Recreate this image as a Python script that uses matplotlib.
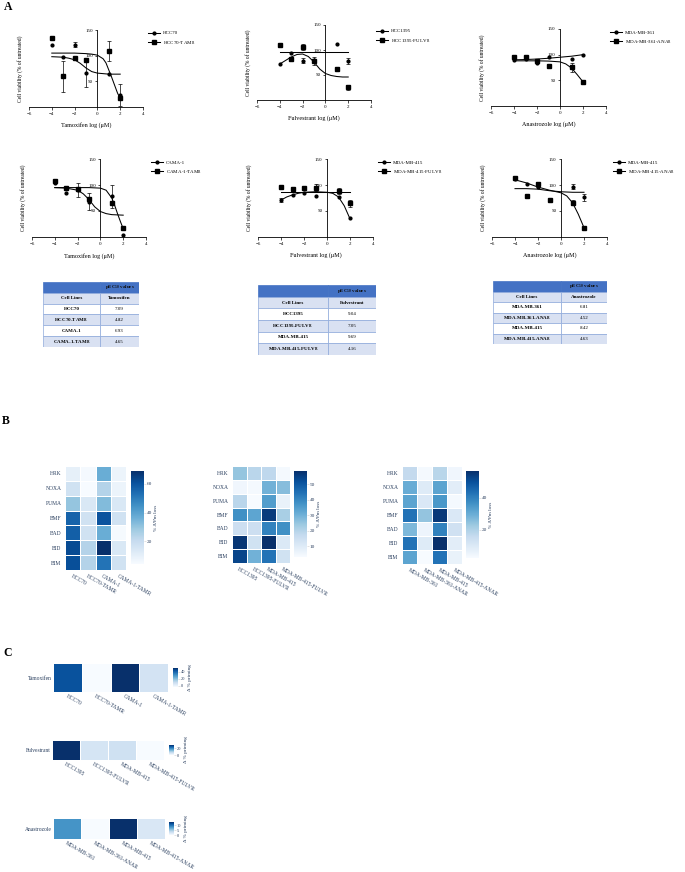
import matplotlib
matplotlib.use("Agg")
import matplotlib.pyplot as plt
from matplotlib.patches import Rectangle
import numpy as np

plt.rcParams['font.family'] = ['Liberation Serif', 'DejaVu Serif']
plt.rcParams['mathtext.fontset'] = 'custom'
plt.rcParams['mathtext.rm'] = 'Liberation Serif'
plt.rcParams['mathtext.bf'] = 'Liberation Serif:bold'

W, H = 685, 872

# ---------------- panel A : dose response ----------------
doses = [-4, -3, -2, -1, 1, 2]
drugs = ["Tamoxifen", "Fulvestrant", "Anastrozole",
         "Tamoxifen", "Fulvestrant", "Anastrozole"]
parent_lines = ["HCC70", "HCC1395", "MDA-MB-361",
                "CAMA-1", "MDA-MB-415", "MDA-MB-415"]
resist_lines = ["HCC70-TAM", "HCC1395-FULV", "MDA-MB-361-ANA",
                "CAMA-1-TAM", "MDA-MB-415-FULV", "MDA-MB-415-ANA"]

# mean viability (% of untreated) and error, parent (circles)
viab_par = [[121, 97, 121, 67, 64, 23],
            [72, 93, 78, 79, 112, 78],
            [90, 92, 84, 96, 92, 100],
            [103, 84, 90, 68, 78, 3],
            [71, 81, 84, 79, 76, 37],
            [111, 101, 96, 72, 97, 76]]
err_par = [[0, 0, 5, 28, 0, 21],
           [0, 0, 5, 0, 0, 6],
           [0, 0, 0, 0, 0, 0],
           [0, 0, 13, 16, 22, 0],
           [4, 0, 0, 0, 0, 0],
           [0, 0, 0, 0, 5, 6]]
# resistant (squares)
viab_res = [[135, 60, 95, 92, 109, 17],
            [109, 81, 105, 77, 62, 25],
            [96, 96, 88, 78, 75, 47],
            [108, 95, 92, 74, 65, 18],
            [96, 92, 94, 95, 89, 65],
            [114, 79, 101, 72, 66, 18]]
err_res = [[0, 30, 0, 0, 20, 0],
           [0, 4, 6, 8, 4, 5],
           [0, 0, 0, 0, 9, 3],
           [0, 0, 0, 0, 0, 0],
           [0, 4, 0, 7, 6, 7],
           [0, 0, 5, 0, 5, 0]]

# fitted curves
fit_par_x = [[-4, -3, -2.5, -2, -1.5, -1, -0.5, 0, 0.5, 1, 2],
             [-4, -3.5, -3, -2.5, -2, -1.5, -1, -0.5, 0, 0.5, 1, 1.5, 2],
             [-4, -3, -2, -1, 0, 1, 2],
             [-4, -3, -2, -1.5, -1, -0.5, 0, 0.5, 1, 2],
             [-4, -3.5, -3, -2.5, -2, -1, 0, 0.5, 1, 1.5, 2],
             [-4, -3, -2, -1, 0, 1, 2]]
fit_par_y = [[98, 97, 95, 92, 85, 76, 69, 66, 65, 64, 64],
             [72, 79, 86, 91, 92, 87, 76, 62, 53, 49, 47, 46, 46],
             [90, 90.5, 91.5, 93, 95, 97, 100],
             [95, 94, 90, 83, 72, 58, 49, 45, 43, 42],
             [71, 77, 81, 84, 86, 87, 86, 84, 77, 60, 35],
             [93, 93, 92, 89, 87, 86, 86]]
fit_res_x = [[-4, -3, -2, -1, -0.5, 0, 0.5, 0.75, 1, 1.25, 1.5, 1.75, 2],
             [-4, 2],
             [-4, -3, -2, -1, 0, 0.5, 1, 1.5, 2],
             [-4, -2, -1, 0, 0.5, 1, 1.25, 1.5, 1.75, 2],
             [-4, 2],
             [-4, -3, -2, -1, 0, 0.5, 1, 1.5, 2]]
fit_res_y = [[105, 105, 105, 104, 103, 101, 94, 86, 72, 58, 43, 28, 16],
             [95, 95],
             [88, 88, 88, 87.5, 86, 82, 74, 61, 47],
             [95, 95, 95, 94, 90, 75, 61, 45, 30, 16],
             [87, 87],
             [110, 104, 96, 90, 85, 79, 66, 44, 18]]

# ---------------- pEC50 tables ----------------
table_drugs = ["Tamoxifen", "Fulvestrant", "Anastrozole"]
table_lines = [["HCC70", "HCC70-TAM$_\\mathregular{R}$", "CAMA-1",
                "CAMA-1-TAM$_\\mathregular{R}$"],
               ["HCC1395", "HCC1395-FULV$_\\mathregular{R}$", "MDA-MB-415",
                "MDA-MB-415-FULV$_\\mathregular{R}$"],
               ["MDA-MB-361", "MDA-MB-361-ANA$_\\mathregular{R}$", "MDA-MB-415",
                "MDA-MB-415-ANA$_\\mathregular{R}$"]]
table_pec50 = [["7.09", "4.82", "6.93", "4.65"],
               ["9.04", "7.05", "9.69", "4.16"],
               ["6.81", "4.52", "8.42", "4.63"]]

# ---------------- panel B : BH3 profiling ----------------
peptides = ["HRK", "NOXA", "PUMA", "BMF", "BAD", "BID", "BIM"]
b_cols = [["HCC70", "HCC70-TAMR", "CAMA-1", "CAMA-1-TAMR"],
          ["HCC1395", "HCC1395-FULVR", "MDA-MB-415", "MDA-MB-415-FULVR"],
          ["MDA-MB-361", "MDA-MB-361-ANAR", "MDA-MB-415", "MDA-MB-415-ANAR"]]
b_tam = [[10, 5.5, 37, 8],
         [17, 4.4, 24, 8],
         [30, 14, 33, 14],
         [56, 17, 60, 17],
         [57, 17, 37, 5],
         [62, 24, 68.7, 14],
         [61, 24, 52, 17]]
b_ful = [[25, 19, 18, 4],
         [5, 4, 30, 27],
         [19, 3, 35, 7],
         [38, 33, 56, 22],
         [15, 15, 41, 38],
         [57, 14, 58.4, 11],
         [54, 30, 44, 14]]
b_ana = [[16, 3, 18, 4],
         [30, 9, 32, 8],
         [32, 10, 35, 3],
         [43, 24, 55, 10],
         [27, 5, 40, 13],
         [43, 9, 57, 8],
         [32, 2, 43, 6]]
b_ticks = [[20, 40, 60], [10, 20, 30, 40, 50], [20, 40]]

# ---------------- panel C : delta priming ----------------
c_drugs = ["Tamoxifen", "Fulvestrant", "Anastrozole"]
c_vals = [[43, -4, 50, 6],
          [29, 5, 6, 0],
          [8, 0, 13, 2]]
c_ticks = [[0, 20, 40], [0, 20], [0, 5, 10]]

TXT = '#2a3f5f'


def box(l, t, r, b):
    return [l / W, 1 - b / H, (r - l) / W, (b - t) / H]


fig = plt.figure(figsize=(W / 100, H / 100), dpi=100)

for lab, x, y in [("A", 4, 7), ("B", 2, 421), ("C", 3, 653)]:
    fig.text(x / W, 1 - y / H, lab, fontsize=8.5, fontweight='bold',
             va='center', ha='left')

# dose response panels
a_boxes = [(29, 30, 143, 107), (257, 25, 371, 100), (491, 29, 606, 106),
           (32, 159, 146, 237), (258, 159, 373, 237), (492, 159, 607, 237)]
a_legend = [(148, 31), (376, 29), (610, 30), (151, 160), (378, 160), (613, 160)]

for i in range(6):
    ax = fig.add_axes(box(*a_boxes[i]))
    ax.plot(fit_par_x[i], fit_par_y[i], color='k', lw=0.75)
    ax.plot(fit_res_x[i], fit_res_y[i], color='k', lw=0.75)
    d = np.array(doses, dtype=float)
    for vals, errs, mk, ms in [(viab_par[i], err_par[i], 'o', 2.0),
                               (viab_res[i], err_res[i], 's', 2.2)]:
        vals = np.array(vals, dtype=float)
        errs = np.array(errs, dtype=float)
        ax.plot(d, vals, ls='none', marker=mk, ms=ms, color='k')
        m = errs > 0
        ax.errorbar(d[m], vals[m], yerr=errs[m], fmt='none', ecolor='k',
                    elinewidth=0.5, capsize=1.6, capthick=0.5)
    ax.set_xlim(-6, 4)
    ax.set_ylim(0, 150)
    ax.set_xticks([-6, -4, -2, 0, 2, 4])
    ax.set_yticks([50, 100, 150])
    ax.spines['left'].set_position(('data', 0))
    ax.spines['bottom'].set_position(('data', 0))
    ax.spines['top'].set_visible(False)
    ax.spines['right'].set_visible(False)
    for s in ['left', 'bottom']:
        ax.spines[s].set_linewidth(0.6)
    ax.tick_params(direction='out', length=1.8, width=0.5, labelsize=3.6, pad=1.5)
    ax.patch.set_alpha(0)
    ax.set_xlabel('%s log (\u03bcM)' % drugs[i], fontsize=4.4)
    ax.xaxis.set_label_coords(0.5, -0.2)
    ax.set_ylabel('Cell viability (% of untreated)', fontsize=4.0)
    ax.yaxis.set_label_coords(-0.055, 0.5)
    h1, = ax.plot([], [], color='k', lw=0.75, marker='o', ms=2.0)
    h2, = ax.plot([], [], color='k', lw=0.75, marker='s', ms=2.2)
    lx, ly = a_legend[i]
    ax.legend([h1, h2], [parent_lines[i], resist_lines[i] + '$_\\mathregular{R}$'],
              loc='upper left', bbox_to_anchor=(lx / W, 1 - ly / H),
              bbox_transform=fig.transFigure, frameon=False, fontsize=3.6,
              handlelength=2.3, handletextpad=0.7, labelspacing=0.75,
              borderpad=0, borderaxespad=0, numpoints=1)

# tables
t_boxes = [(43, 282, 139, 347, 100), (258, 285, 376, 355, 328),
           (493, 281, 607, 344, 561)]
for i in range(3):
    l, t, r, b, sp = t_boxes[i]
    ax = fig.add_axes(box(l, t, r, b))
    ax.set_xlim(0, 1)
    ax.set_ylim(6, 0)
    ax.axis('off')
    s = (sp - l) / (r - l)
    fills = ['#4472C4', '#D9E1F2', 'white', '#D9E1F2', 'white', '#D9E1F2']
    for row in range(6):
        for x0, w in [(0, s), (s, 1 - s)]:
            ec = fills[0] if row == 0 else '#8EA9DB'
            ax.add_patch(Rectangle((x0, row), w, 1, facecolor=fills[row],
                                   edgecolor=ec, lw=0.5))
    ax.text(s + (1 - s) / 2, 0.5, 'pEC$_\\mathregular{50}$ values', ha='center',
            va='center', fontsize=3.6, fontweight='bold', color='#111111')
    ax.text(s / 2, 1.5, 'Cell Lines', ha='center', va='center', fontsize=3.6,
            fontweight='bold')
    ax.text(s + (1 - s) / 2, 1.5, table_drugs[i], ha='center', va='center',
            fontsize=3.6, fontweight='bold')
    for k in range(4):
        ax.text(s / 2, 2.5 + k, table_lines[i][k], ha='center', va='center',
                fontsize=3.6, fontweight='bold')
        ax.text(s + (1 - s) / 2, 2.5 + k, table_pec50[i][k], ha='center',
                va='center', fontsize=3.6)


def heat(ax, cax, data, xlabels, ylabels, ticks, cbar_label, pad):
    data = np.array(data, dtype=float)
    mesh = ax.pcolormesh(data, cmap='Blues', vmin=data.min(), vmax=data.max(),
                         edgecolors='white', linewidth=0.4)
    ax.set_xlim(0, data.shape[1])
    ax.set_ylim(data.shape[0], 0)
    ax.set_xticks(np.arange(data.shape[1]) + 0.5)
    ax.set_xticklabels(xlabels, rotation=-30, ha='left', va='top',
                       rotation_mode='anchor', fontsize=4, color=TXT)
    ax.set_yticks(np.arange(data.shape[0]) + 0.5)
    ax.set_yticklabels(ylabels, fontsize=4, color=TXT)
    ax.tick_params(length=0, pad=pad)
    for s in ax.spines.values():
        s.set_visible(False)
    cb = fig.colorbar(mesh, cax=cax)
    cb.outline.set_visible(False)
    cb.set_ticks(ticks)
    cax.tick_params(labelsize=3.8, length=1.2, width=0.4, color='#cccccc',
                    labelcolor=TXT, pad=1)
    cax.set_ylabel(cbar_label, fontsize=3.8, color=TXT, rotation=90, labelpad=1.5)
    return mesh


b_boxes = [((65, 466, 126, 570), (131, 471, 144, 564)),
           ((232, 466, 290, 563), (294, 471, 307, 557)),
           ((402, 466, 462, 564), (466, 471, 479, 558))]
b_data = [b_tam, b_ful, b_ana]
for i in range(3):
    hb, cb_box = b_boxes[i]
    ax = fig.add_axes(box(*hb))
    cax = fig.add_axes(box(*cb_box))
    heat(ax, cax, b_data[i], b_cols[i], peptides, b_ticks[i],
         '% \u0394\u03a8m loss', 2.5)

c_boxes = [((53, 663, 168, 692), (173, 668, 178, 687)),
           ((52, 740, 164, 760), (169, 745, 174, 755)),
           ((53, 818, 165, 839), (169, 822, 174, 835))]
for i in range(3):
    hb, cb_box = c_boxes[i]
    ax = fig.add_axes(box(*hb))
    cax = fig.add_axes(box(*cb_box))
    heat(ax, cax, [c_vals[i]], b_cols[i], [c_drugs[i]], c_ticks[i],
         '\u0394 % priming', 1)
    cax.tick_params(labelsize=3.2)

plt.savefig('out.png', dpi=100)
